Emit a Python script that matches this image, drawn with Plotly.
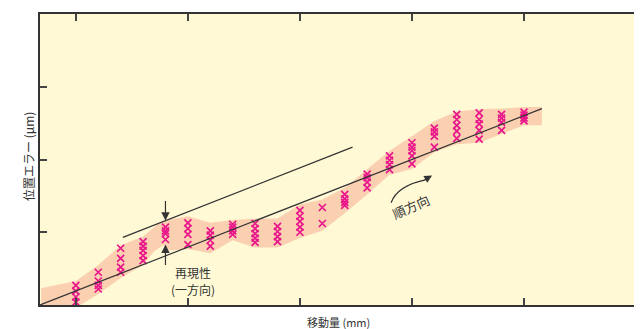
import plotly.graph_objects as go

# Measured positions (x) and repeated position errors (y) per column
col_x = [1.0, 1.2, 1.4, 1.6, 1.8, 2.0, 2.2, 2.4, 2.6, 2.8, 3.0,
         3.2, 3.4, 3.6, 3.8, 4.0, 4.2, 4.4, 4.6, 4.8, 5.0]
col_y = [
    [0.27, 0.19, 0.11, 0.04],
    [0.45, 0.33, 0.27, 0.22],
    [0.78, 0.64, 0.52, 0.45],
    [0.87, 0.81, 0.75, 0.68, 0.61],
    [1.07, 1.02, 0.98, 0.90],
    [1.13, 1.05, 0.97, 0.83],
    [1.02, 0.96, 0.89, 0.81],
    [1.11, 1.07, 1.02, 0.97],
    [1.12, 1.05, 0.98, 0.92, 0.86],
    [1.08, 1.01, 0.94, 0.87],
    [1.30, 1.22, 1.15, 1.07, 1.00],
    [1.34, 1.12],
    [1.52, 1.46, 1.41, 1.37],
    [1.80, 1.75, 1.69, 1.61],
    [2.05, 1.99, 1.93, 1.86],
    [2.23, 2.17, 2.12, 2.05, 1.94],
    [2.43, 2.38, 2.32, 2.17],
    [2.62, 2.55, 2.47, 2.39, 2.29],
    [2.64, 2.55, 2.49, 2.40, 2.28],
    [2.62, 2.57, 2.51, 2.40],
    [2.65, 2.61, 2.57, 2.53],
]

# Repeatability band (upper and lower envelope)
band_upper_x = [0.69, 1.0, 1.2, 1.4, 1.6, 1.73, 1.8, 2.0, 2.2, 2.4, 2.6, 2.8,
                3.0, 3.2, 3.4, 3.6, 3.8, 4.0, 4.2, 4.4, 4.6, 4.8, 5.0, 5.16]
band_upper_y = [0.23, 0.33, 0.55, 0.82, 0.94, 1.11, 1.16, 1.22, 1.13, 1.17, 1.19, 1.19,
                1.38, 1.45, 1.61, 1.87, 2.12, 2.32, 2.53, 2.66, 2.69, 2.70, 2.72, 2.72]
band_lower_x = [5.16, 5.0, 4.8, 4.6, 4.4, 4.2, 4.0, 3.8, 3.6, 3.4, 3.2, 3.0, 2.8, 2.6,
                2.4, 2.2, 2.0, 1.84, 1.78, 1.7, 1.6, 1.4, 1.2, 1.04, 0.69]
band_lower_y = [2.47, 2.47, 2.35, 2.23, 2.21, 2.10, 1.87, 1.79, 1.52, 1.26, 1.02, 0.92, 0.79, 0.79,
                0.89, 0.71, 0.77, 0.75, 0.82, 0.74, 0.55, 0.37, 0.15, 0.0, 0.0]

# Fitted trend line and parallel offset line
fit_x = [0.68, 5.16]
fit_y = [0.0, 2.70]
offset_x = [1.42, 3.47]
offset_y = [0.93, 2.17]

x_ticks = [1, 2, 3, 4, 5]
y_ticks = [1, 2, 3]

FONT = "Noto Sans CJK JP"
DARK = "#333333"

fig = go.Figure()

fig.add_trace(go.Scatter(
    x=band_upper_x + band_lower_x, y=band_upper_y + band_lower_y,
    fill="toself", fillcolor="#FBD0B1", line=dict(width=0),
    mode="lines", hoverinfo="skip", showlegend=False))

pts_x, pts_y = [], []
for xv, ys in zip(col_x, col_y):
    for yv in ys:
        pts_x.append(xv)
        pts_y.append(yv)

fig.add_trace(go.Scatter(
    x=pts_x, y=pts_y, mode="markers",
    marker=dict(symbol="x-thin", size=7, line=dict(width=1.7, color="#E8168A")),
    showlegend=False))

fig.add_trace(go.Scatter(x=fit_x, y=fit_y, mode="lines",
                         line=dict(color=DARK, width=1.2), showlegend=False))
fig.add_trace(go.Scatter(x=offset_x, y=offset_y, mode="lines",
                         line=dict(color=DARK, width=1.2), showlegend=False))

# repeatability arrows
fig.add_annotation(x=1.8, y=1.16, ax=1.8, ay=1.45, xref="x", yref="y", axref="x", ayref="y",
                   showarrow=True, arrowhead=2, arrowsize=1.4, arrowwidth=1.2,
                   arrowcolor=DARK, text="")
fig.add_annotation(x=1.8, y=0.83, ax=1.8, ay=0.53, xref="x", yref="y", axref="x", ayref="y",
                   showarrow=True, arrowhead=2, arrowsize=1.4, arrowwidth=1.2,
                   arrowcolor=DARK, text="")
fig.add_annotation(x=2.05, y=0.45, xref="x", yref="y", showarrow=False,
                   text="再現性", font=dict(family=FONT, size=12, color=DARK))
fig.add_annotation(x=2.05, y=0.21, xref="x", yref="y", showarrow=False,
                   text="(一方向)", font=dict(family=FONT, size=12, color=DARK))

# forward direction curved arrow
fig.add_shape(type="path", xref="x", yref="y",
              path="M 3.814,1.406 Q 3.868,1.638 4.12,1.72",
              line=dict(color=DARK, width=1.2))
fig.add_annotation(x=4.18, y=1.78, ax=4.10, ay=1.71, xref="x", yref="y", axref="x", ayref="y",
                   showarrow=True, arrowhead=2, arrowsize=1.3, arrowwidth=1.2,
                   arrowcolor=DARK, text="")
fig.add_annotation(x=3.99, y=1.36, xref="x", yref="y", showarrow=False, textangle=-24,
                   text="順方向", font=dict(family=FONT, size=13, color=DARK))

# axis titles
fig.add_annotation(x=-0.037, y=0.51, xref="paper", yref="paper", showarrow=False,
                   textangle=-90, text="位置エラー (μm)",
                   font=dict(family=FONT, size=12, color=DARK))
fig.add_annotation(x=0.5, y=-0.057, xref="paper", yref="paper", showarrow=False,
                   yanchor="middle", text="移動量 (mm)",
                   font=dict(family=FONT, size=11, color=DARK))

fig.update_xaxes(range=[0.68, 6.0], tickvals=x_ticks, showticklabels=False,
                 ticks="inside", ticklen=7, tickwidth=1.5, tickcolor="#444",
                 showline=True, linecolor=DARK, linewidth=2, mirror="ticks",
                 showgrid=False, zeroline=False)
fig.update_yaxes(range=[0, 4], tickvals=y_ticks, showticklabels=False,
                 ticks="inside", ticklen=7, tickwidth=1.5, tickcolor="#444",
                 showline=True, linecolor=DARK, linewidth=2, mirror=True,
                 showgrid=False, zeroline=False)

# page body adds an 8px offset, so the figure is sized to fit the window
fig.update_layout(width=634, height=321,
                  margin=dict(l=32, r=4, t=4, b=24),
                  plot_bgcolor="#FFF9D6", paper_bgcolor="white",
                  showlegend=False)

fig.write_html("out.html")
